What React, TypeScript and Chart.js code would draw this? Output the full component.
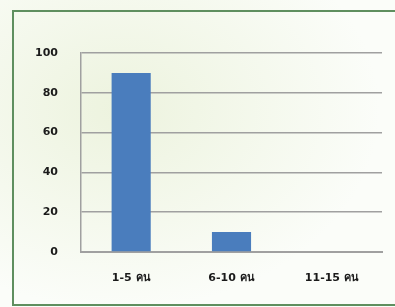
import React, { useEffect, useRef } from "react";
import { Chart, registerables } from "chart.js";

Chart.register(...registerables);

const categories = ["1-5 คน", "6-10 คน", "11-15 คน"];
const values = [90, 10, 0];
const yTicks = [0, 20, 40, 60, 80, 100];

export default function App() {
  const ref = useRef<HTMLCanvasElement | null>(null);

  useEffect(() => {
    if (!ref.current) return;
    const font = { family: "'DejaVu Sans', 'Liberation Sans', sans-serif", size: 11, weight: "bold" as const };
    const chart = new Chart(ref.current, {
      type: "bar",
      data: {
        labels: categories,
        datasets: [
          {
            data: values,
            backgroundColor: "#4a7dbd",
            borderWidth: 0,
            categoryPercentage: 1,
            barPercentage: 0.39,
          },
        ],
      },
      options: {
        responsive: false,
        animation: false,
        layout: { padding: { top: 53, right: 13, left: 0, bottom: 0 } },
        plugins: { legend: { display: false }, tooltip: { enabled: false } },
        scales: {
          x: {
            grid: { display: false, drawTicks: false },
            border: { display: true, color: "#a0a0a0", width: 2 },
            ticks: { color: "#1a1a1a", padding: 20, font },
            afterFit: (s: any) => {
              s.height = 55;
            },
          },
          y: {
            min: 0,
            max: 100,
            afterBuildTicks: (s: any) => {
              s.ticks = yTicks.map((v) => ({ value: v }));
            },
            grid: { color: "#a0a0a0", lineWidth: 1.5, drawTicks: false },
            border: { display: true, color: "#a0a0a0", width: 1.5 },
            ticks: { color: "#1a1a1a", padding: 23, font },
            afterFit: (s: any) => {
              s.width = 81;
            },
          },
        },
      },
    });
    return () => chart.destroy();
  }, []);

  return (
    <div
      style={{
        position: "fixed",
        left: 0,
        top: 0,
        width: 395,
        height: 307,
        overflow: "hidden",
        background:
          "radial-gradient(ellipse 260px 200px at 120px 110px, rgba(225,235,200,0.55), rgba(255,255,255,0) 100%), #fbfdf9",
      }}
    >
      <div
        style={{
          position: "absolute",
          left: 12,
          top: 10,
          width: 400,
          height: 296,
          border: "2px solid #5f8f5f",
          boxSizing: "border-box",
        }}
      />
      <canvas
        ref={ref}
        width={395}
        height={307}
        style={{ position: "absolute", left: 0, top: 0, width: 395, height: 307 }}
      />
    </div>
  );
}
